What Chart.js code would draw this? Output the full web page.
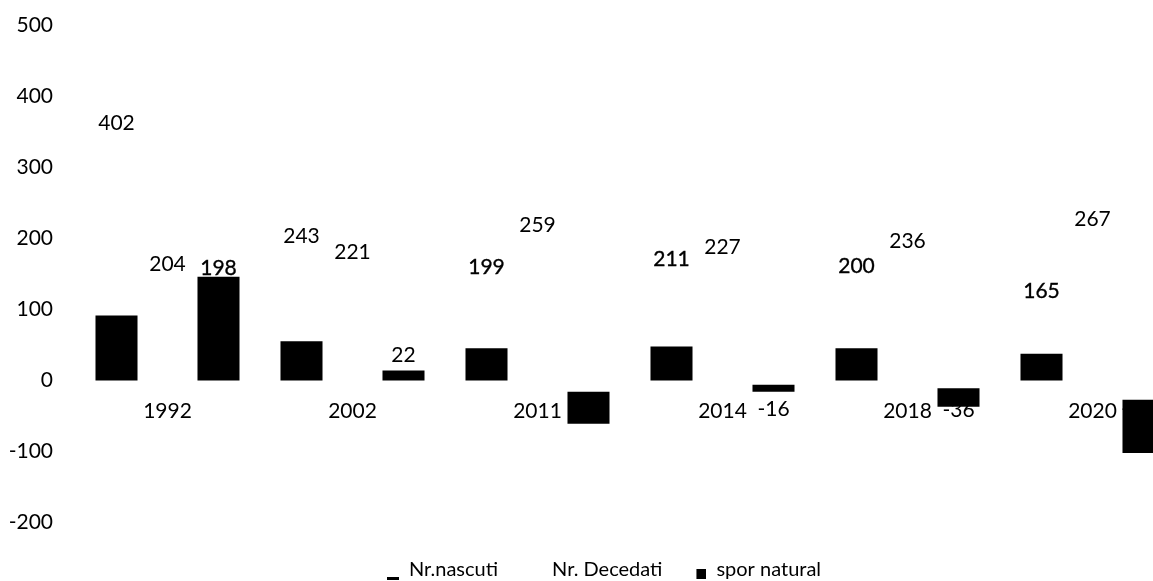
<!DOCTYPE html>
<html>
<head>
<meta charset="utf-8">
<script src="https://cdn.jsdelivr.net/npm/chart.js@4/dist/chart.umd.min.js"></script>
<style>
  html, body { margin: 0; padding: 0; overflow: hidden; background: #fff; }
</style>
</head>
<body>
<canvas id="chart" width="1207" height="590"></canvas>
<script>
    var years = ['1992', '2002', '2011', '2014', '2018', '2020'];
    var nascuti = [402, 243, 199, 211, 200, 165];
    var decedati = [204, 221, 259, 227, 236, 267];
    var spor = [198, 22, -60, -16, -36, -102];
    // spor natural bars the way they come out in the picture (from, to)
    var sporBars = [[0, 146], [0, 14], [-16, -61], [-6, -16], [-11, -37], [-27, -102]];
    // where the spor natural labels sit, on the label axis
    var sporLabelAt = [198, 76, 0, 0, -2, 0];
    var yTicks = [500, 400, 300, 200, 100, 0, -100, -200];

    Chart.defaults.font.family = 'Lato';
    Chart.defaults.color = '#000';

    // legend markers: a flat dash, nothing, a small square
    function marker(kind) {
        var c = document.createElement('canvas');
        c.width = 12;
        c.height = 24;
        var g = c.getContext('2d');
        g.fillStyle = '#000';
        if (kind == 'dash') g.fillRect(0, 19, 12, 3);
        if (kind == 'square') g.fillRect(2, 11, 10, 10);
        return c;
    }
    var markers = [marker('dash'), marker('none'), marker('square')];

    var valueLabels = {
        id: 'valueLabels',
        beforeDatasetsDraw: function (chart) {
            var ctx = chart.ctx;
            var yL = chart.scales.yL;
            var sets = [
                {meta: 0, text: nascuti, at: nascuti, heavy: [2, 3, 4, 5]},
                {meta: 1, text: decedati, at: decedati, heavy: []},
                {meta: 2, text: spor, at: sporLabelAt, heavy: [0]}
            ];
            ctx.save();
            ctx.font = '21px Lato';
            ctx.fillStyle = '#000';
            ctx.strokeStyle = '#000';
            ctx.lineWidth = 0.35;
            ctx.textAlign = 'center';
            ctx.textBaseline = 'middle';
            sets.forEach(function (s) {
                var bars = chart.getDatasetMeta(s.meta).data;
                s.text.forEach(function (v, i) {
                    var x = bars[i].x;
                    var y = yL.getPixelForValue(s.at[i]);
                    ctx.fillText(v, x, y);
                    if (s.heavy.indexOf(i) > -1) ctx.strokeText(v, x, y);
                });
            });
            ctx.restore();
        }
    };

    new Chart(document.getElementById('chart'), {
        type: 'bar',
        data: {
            labels: years,
            datasets: [
                {label: 'Nr.nascuti', data: nascuti, yAxisID: 'yN', backgroundColor: '#000'},
                {label: 'Nr. Decedati', data: decedati, yAxisID: 'y', backgroundColor: 'rgba(0,0,0,0)'},
                {label: 'spor natural', data: sporBars, yAxisID: 'y', backgroundColor: '#000'}
            ]
        },
        options: {
            responsive: false,
            animation: false,
            datasets: {
                bar: {categoryPercentage: 0.827, barPercentage: 0.824, borderWidth: 0}
            },
            layout: {padding: {top: 25, left: 10, right: 9, bottom: 0}},
            scales: {
                x: {
                    position: {y: 0},
                    grid: {display: false, drawTicks: false},
                    border: {display: false},
                    ticks: {padding: 18, font: {size: 21}}
                },
                y: {
                    min: -207.5,
                    max: 500,
                    afterBuildTicks: function (scale) {
                        scale.ticks = yTicks.map(function (v) { return {value: v}; });
                    },
                    afterFit: function (scale) {
                        scale.width = 65;
                        scale.paddingTop = 0;
                        scale.paddingBottom = 0;
                    },
                    grid: {display: false, drawTicks: false},
                    border: {display: false},
                    ticks: {padding: 22, font: {size: 21}}
                },
                yL: {display: false, min: -167.5, max: 540},
                // secondary axis for the births bars, kept blank on the right
                yN: {
                    position: 'right',
                    min: -913,
                    max: 2200,
                    afterFit: function (scale) {
                        scale.width = 13;
                        scale.paddingTop = 0;
                        scale.paddingBottom = 0;
                    },
                    grid: {display: false, drawTicks: false},
                    border: {display: false},
                    ticks: {display: false}
                }
            },
            plugins: {
                tooltip: {enabled: false},
                legend: {
                    position: 'bottom',
                    labels: {
                        usePointStyle: true,
                        boxWidth: 12,
                        padding: 32,
                        font: {size: 20},
                        generateLabels: function (chart) {
                            var items = Chart.defaults.plugins.legend.labels.generateLabels(chart);
                            items.forEach(function (it, i) { it.pointStyle = markers[i]; });
                            return items;
                        }
                    }
                }
            }
        },
        plugins: [valueLabels]
    });
</script>
</body>
</html>
